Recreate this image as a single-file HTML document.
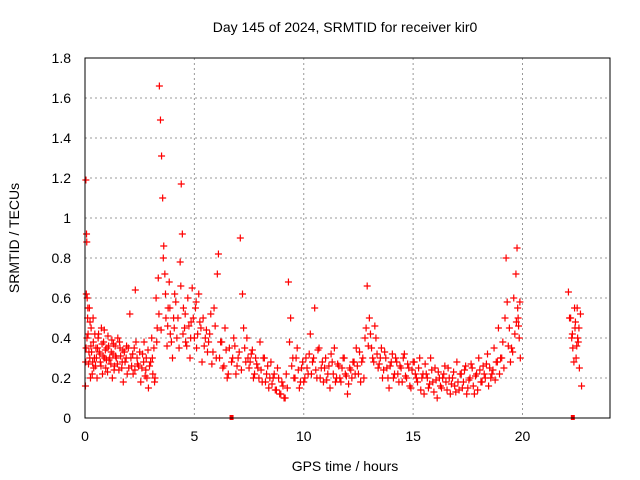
<!DOCTYPE html>
<html><head><meta charset="utf-8"><style>
body{margin:0;background:#fff;}
svg{display:block;font-family:"Liberation Sans",sans-serif;}
</style></head><body>
<svg id="chart" width="640" height="480">
<rect width="640" height="480" fill="#fff"/>
<text x="345" y="32" font-size="14" text-anchor="middle">Day 145 of 2024, SRMTID for receiver kir0</text>
<text x="345" y="471" font-size="14" text-anchor="middle">GPS time / hours</text>
<text transform="translate(19,238) rotate(-90)" font-size="14" text-anchor="middle">SRMTID / TECUs</text>
<g id="grid"></g><g id="ticks"></g><g id="marks"></g>
<rect x="85" y="58" width="525" height="360" fill="none" stroke="#000" stroke-width="1"/>
</svg>
<script>
const xTicks=[0,5,10,15,20];
const yTicks=[0,0.2,0.4,0.6,0.8,1,1.2,1.4,1.6,1.8];
const yTickLabels=["0","0.2","0.4","0.6","0.8","1","1.2","1.4","1.6","1.8"];
const times=[0.02,0.04,0.05,0.07,0.08,0.1,0.12,0.14,0.16,0.2,0.22,0.25,0.28,0.3,0.35,0.38,0.4,0.45,0.5,0.52,0.55,0.6,0.65,0.7,0.75,0.8,0.85,0.9,0.95,1.0,1.05,1.1,1.2,1.25,1.3,1.35,1.4,1.5,1.55,1.6,1.7,1.75,1.8,1.9,2.0,2.05,2.1,2.2,2.25,2.3,2.4,2.5,2.55,2.6,2.7,2.75,2.8,2.9,3.0,3.05,3.1,3.15,3.2,3.25,3.3,3.35,3.4,3.45,3.5,3.55,3.6,3.65,3.7,3.75,3.8,3.85,3.9,4.0,4.05,4.1,4.2,4.3,4.35,4.4,4.45,4.5,4.55,4.6,4.7,4.8,4.85,4.9,5.0,5.05,5.1,5.2,5.3,5.35,5.4,5.5,5.6,5.7,5.8,5.9,6.0,6.05,6.1,6.2,6.3,6.4,6.5,6.6,6.7,6.8,6.9,7.0,7.1,7.2,7.25,7.3,7.35,7.4,7.5,7.6,7.7,7.8,7.9,8.0,8.1,8.2,8.3,8.4,8.5,8.6,8.7,8.8,8.9,9.0,9.1,9.2,9.25,9.3,9.4,9.5,9.6,9.7,9.8,9.9,10.0,10.1,10.2,10.3,10.4,10.5,10.6,10.7,10.8,10.9,11.0,11.1,11.2,11.3,11.4,11.5,11.6,11.7,11.8,11.9,12.0,12.1,12.2,12.3,12.4,12.5,12.6,12.7,12.8,12.9,13.0,13.1,13.2,13.3,13.4,13.5,13.6,13.7,13.8,13.9,14.0,14.1,14.2,14.3,14.4,14.5,14.6,14.7,14.8,14.9,15.0,15.1,15.2,15.3,15.4,15.5,15.6,15.7,15.8,15.9,16.0,16.1,16.2,16.3,16.4,16.5,16.6,16.7,16.8,16.9,17.0,17.1,17.2,17.3,17.4,17.5,17.6,17.7,17.8,17.9,18.0,18.1,18.2,18.3,18.4,18.5,18.6,18.7,18.8,18.9,19.0,19.1,19.2,19.25,19.3,19.4,19.5,19.6,19.7,19.75,19.8,19.85,19.9,22.1,22.2,22.25,22.3,22.35,22.4,22.45,22.5,22.55,22.6,22.7];
const values=[0.16,1.19,0.35,0.92,0.88,0.6,0.5,0.42,0.27,0.55,0.3,0.2,0.45,0.33,0.28,0.38,0.25,0.42,0.35,0.3,0.2,0.4,0.33,0.28,0.45,0.22,0.38,0.3,0.25,0.35,0.41,0.29,0.33,0.2,0.37,0.26,0.31,0.4,0.24,0.35,0.28,0.18,0.33,0.36,0.25,0.52,0.3,0.22,0.35,0.64,0.27,0.33,0.18,0.25,0.38,0.21,0.3,0.15,0.28,0.4,0.22,0.35,0.2,0.6,0.45,0.7,1.66,1.49,1.31,1.1,0.86,0.72,0.5,0.36,0.55,0.68,0.42,0.3,0.5,0.62,0.4,0.35,0.78,1.17,0.92,0.55,0.45,0.38,0.6,0.3,0.48,0.65,0.4,0.55,0.35,0.62,0.45,0.28,0.5,0.4,0.33,0.42,0.27,0.55,0.3,0.72,0.82,0.38,0.25,0.45,0.2,0.35,0.28,0.4,0.22,0.3,0.9,0.62,0.45,0.35,0.28,0.4,0.25,0.32,0.2,0.3,0.25,0.38,0.18,0.3,0.22,0.15,0.28,0.2,0.14,0.25,0.12,0.18,0.1,0.22,0.15,0.68,0.5,0.3,0.2,0.35,0.15,0.25,0.18,0.3,0.22,0.42,0.28,0.55,0.2,0.35,0.25,0.18,0.3,0.22,0.15,0.28,0.35,0.2,0.26,0.18,0.3,0.22,0.12,0.25,0.2,0.28,0.35,0.22,0.18,0.3,0.4,0.66,0.5,0.35,0.28,0.4,0.25,0.3,0.2,0.33,0.25,0.15,0.28,0.2,0.3,0.22,0.26,0.18,0.32,0.2,0.25,0.15,0.28,0.22,0.18,0.3,0.2,0.12,0.22,0.15,0.3,0.18,0.25,0.1,0.2,0.15,0.22,0.18,0.25,0.12,0.2,0.16,0.28,0.14,0.22,0.18,0.26,0.15,0.2,0.25,0.12,0.22,0.3,0.18,0.26,0.2,0.32,0.25,0.22,0.35,0.28,0.45,0.3,0.38,0.5,0.8,0.58,0.45,0.35,0.6,0.72,0.85,0.5,0.4,0.3,0.63,0.5,0.4,0.35,0.28,0.45,0.3,0.55,0.38,0.25,0.16];
const times2=[0.03,0.06,0.09,0.13,0.18,0.23,0.27,0.33,0.37,0.43,0.48,0.57,0.62,0.68,0.73,0.78,0.83,0.88,0.93,0.98,1.03,1.08,1.13,1.18,1.23,1.28,1.33,1.38,1.43,1.48,1.58,1.63,1.68,1.73,1.83,1.88,1.93,1.98,2.13,2.18,2.28,2.33,2.38,2.45,2.63,2.68,2.78,2.83,2.88,2.95,3.08,3.18,3.28,3.38,3.48,3.58,3.68,3.78,3.88,3.95,4.08,4.15,4.25,4.38,4.48,4.58,4.65,4.75,4.83,4.95,5.08,5.15,5.25,5.45,5.55,5.65,5.75,5.85,5.95,6.15,6.25,6.35,6.45,6.55,6.75,6.85,6.95,7.05,7.15,7.45,7.55,7.65,7.75,7.85,7.95,8.05,8.15,8.25,8.35,8.45,8.55,8.65,8.75,8.85,8.95,9.05,9.15,9.35,9.45,9.55,9.65,9.75,9.85,9.95,10.05,10.15,10.25,10.35,10.45,10.55,10.65,10.75,10.85,10.95,11.05,11.15,11.25,11.35,11.45,11.55,11.65,11.75,11.85,11.95,12.05,12.15,12.25,12.35,12.45,12.55,12.65,12.75,12.85,12.95,13.05,13.15,13.25,13.35,13.45,13.55,13.65,13.75,13.85,13.95,14.05,14.15,14.25,14.35,14.45,14.55,14.65,14.75,14.85,14.95,15.05,15.15,15.25,15.35,15.45,15.55,15.65,15.75,15.85,15.95,16.05,16.15,16.25,16.35,16.45,16.55,16.65,16.75,16.85,16.95,17.05,17.15,17.25,17.35,17.45,17.55,17.65,17.75,17.85,17.95,18.05,18.15,18.25,18.35,18.45,18.55,18.65,18.75,18.85,18.95,19.05,19.15,19.35,19.45,19.55,19.65,19.72,19.78,19.82,19.88,22.15,22.28,22.38,22.42,22.48,22.52,22.58,22.65];
const values2=[0.28,0.62,0.4,0.55,0.33,0.48,0.36,0.22,0.5,0.3,0.26,0.35,0.42,0.32,0.26,0.37,0.31,0.44,0.34,0.29,0.23,0.36,0.3,0.27,0.39,0.32,0.24,0.36,0.3,0.27,0.38,0.31,0.25,0.34,0.28,0.3,0.22,0.35,0.26,0.32,0.24,0.38,0.3,0.26,0.32,0.28,0.24,0.2,0.34,0.26,0.3,0.18,0.38,0.52,0.44,0.8,0.62,0.46,0.55,0.38,0.45,0.58,0.5,0.66,0.42,0.52,0.36,0.46,0.4,0.5,0.58,0.42,0.48,0.36,0.44,0.38,0.52,0.33,0.46,0.3,0.38,0.26,0.34,0.22,0.3,0.36,0.26,0.33,0.24,0.3,0.28,0.34,0.22,0.27,0.2,0.24,0.3,0.18,0.26,0.2,0.17,0.22,0.14,0.2,0.12,0.16,0.1,0.38,0.26,0.2,0.3,0.24,0.18,0.28,0.2,0.25,0.32,0.22,0.3,0.24,0.34,0.2,0.28,0.25,0.19,0.26,0.32,0.22,0.18,0.27,0.2,0.25,0.3,0.21,0.17,0.24,0.28,0.22,0.26,0.33,0.28,0.2,0.45,0.36,0.42,0.3,0.46,0.32,0.27,0.35,0.24,0.3,0.2,0.26,0.32,0.22,0.28,0.18,0.25,0.3,0.21,0.27,0.16,0.24,0.28,0.2,0.25,0.14,0.22,0.27,0.2,0.17,0.24,0.13,0.19,0.23,0.16,0.2,0.26,0.14,0.2,0.17,0.23,0.13,0.18,0.22,0.15,0.24,0.12,0.19,0.27,0.16,0.21,0.14,0.24,0.18,0.22,0.27,0.16,0.2,0.24,0.19,0.28,0.22,0.3,0.25,0.36,0.28,0.33,0.42,0.48,0.55,0.46,0.58,0.5,0.42,0.55,0.48,0.36,0.4,0.45,0.52,0.36,0.44,0.3,0.48,0.42];
const zeroTimes=[6.7,22.3];
const NS='http://www.w3.org/2000/svg';
const X=t=>85+t*525/24, Y=v=>418-v*200;
const grid=document.getElementById('grid'),ticks=document.getElementById('ticks'),marks=document.getElementById('marks');
function mk(tag,a,p){const e=document.createElementNS(NS,tag);for(const k in a)e.setAttribute(k,a[k]);p.appendChild(e);return e;}
xTicks.forEach(t=>{
 if(t>0){const g=mk('line',{x1:X(t),x2:X(t),y1:58,y2:418,stroke:'#999','stroke-dasharray':'2,3'},grid);
 
 }
 const l=mk('text',{x:X(t),y:441,'font-size':14,'text-anchor':'middle'},ticks);l.textContent=t;
 
 
});
yTicks.forEach((v,i)=>{
 if(v>0&&v<1.8){const g=mk('line',{x1:85,x2:610,y1:Y(v),y2:Y(v),stroke:'#999','stroke-dasharray':'2,3'},grid);
 
 }
 const l=mk('text',{x:71,y:Y(v)+5,'font-size':14,'text-anchor':'end'},ticks);l.textContent=yTickLabels[i];
 
 
});
function plus(x,y,color){
 return mk('path',{d:`M${x-3.5},${y}H${x+3.5}M${x},${y-3.5}V${y+3.5}`,stroke:color,'stroke-width':1.2,fill:'none'},marks);
}
times2.forEach((t,i)=>{
 const p=plus(X(t),Y(values2[i]),'#f00');
 
 
});
times.forEach((t,i)=>{
 const p=plus(X(t),Y(values[i]),'#f00');
 
 
});
zeroTimes.forEach(t=>{
 const r=mk('rect',{x:X(t)-2,y:415,width:4,height:5,fill:'#f00'},marks);
 
 
});
</script>
</body></html>
